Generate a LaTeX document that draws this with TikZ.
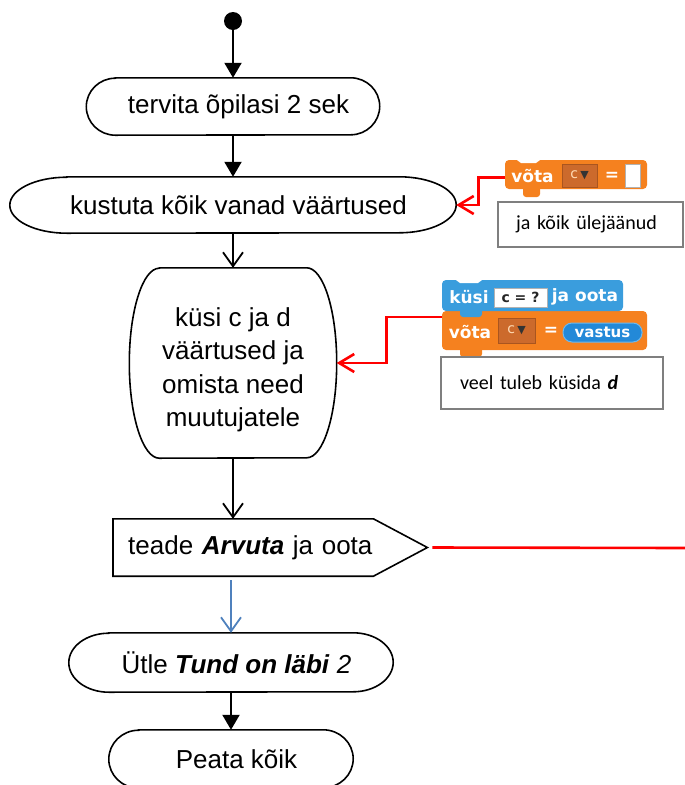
\documentclass[tikz,border=0pt]{standalone}
\usepackage{fontspec}
\setmainfont{Liberation Sans}
\newfontfamily\notefont{Carlito}
\newfontfamily\symfont{DejaVu Sans}
\usepackage{tikz}
\usetikzlibrary{
  positioning,
  calc,
  arrows.meta,
  }

\definecolor{scrorange}{HTML}{F5811F}
\definecolor{scrdrop}{HTML}{CC6A2C}
\definecolor{scrdropline}{HTML}{A9551F}
\definecolor{scrblue}{HTML}{3A9DDD}
\definecolor{scrreporter}{HTML}{2389D8}
\definecolor{scrreportline}{HTML}{6CB9EE}
\definecolor{flowblue}{HTML}{4F81BD}
\definecolor{notegray}{HTML}{7F7F7F}
\definecolor{connred}{HTML}{FF0000}

% flat top and bottom, half ellipses at both ends
\newcommand{\termline}[3]{%
  \draw[outline] ($(#1.north west)+(#2,0)$) -- ($(#1.north east)+(-#2,0)$)
    arc[start angle=90,end angle=-90,x radius=#2pt,y radius=#3pt]
    -- ($(#1.south west)+(#2,0)$)
    arc[start angle=270,end angle=90,x radius=#2pt,y radius=#3pt] -- cycle;}

\begin{document}
\begin{tikzpicture}[x=1pt,y=-1pt,
  flow/.style={inner sep=0pt, font=\fontsize{26}{33.5}\selectfont},
  outline/.style={line width=1.6pt},
  solidarrow/.style={line width=2pt, -{Triangle[length=15pt,width=17pt]}},
  openarrow/.style={line width=1.8pt, -{Straight Barb[length=14pt,width=20pt]}},
  bluearrow/.style={openarrow, draw=flowblue},
  redarrow/.style={line width=2.6pt, draw=connred, -{Straight Barb[length=15pt,width=18pt]}},
  redline/.style={line width=2.6pt, draw=connred},
  block/.style={rounded corners=4pt, inner sep=0pt},
  blocktext/.style={text=white, inner sep=0pt, font=\symfont\fontsize{17}{17}\selectfont\bfseries},
  dropbox/.style={fill=scrdrop, draw=scrdropline, line width=0.8pt, inner sep=0pt,
    text=orange!30!white, font=\symfont\fontsize{14}{14}\selectfont},
  inputbox/.style={fill=white, draw=gray!60, line width=0.8pt, inner sep=0pt,
    text=black!85, font=\symfont\fontsize{14}{14}\selectfont\bfseries},
  reporter/.style={fill=scrreporter, draw=scrreportline, line width=1pt, rounded corners=9pt,
    inner sep=0pt, text=white, font=\symfont\fontsize{15}{15}\selectfont\bfseries},
  notebox/.style={draw=notegray, fill=white, line width=1.3pt, align=left,
    font=\notefont\fontsize{20}{24}\selectfont},
  ]
\useasboundingbox (0,0) rectangle (685,785);

% main flow
\node[circle, fill=black, minimum size=18pt, inner sep=0pt] (start) at (233,21) {};
\node[flow, minimum width=293pt, minimum height=57pt] (greet) at (233,106.5) {\hspace*{11pt}tervita õpilasi 2 sek};
\node[flow, minimum width=446pt, minimum height=56pt] (clear) at (233,205) {\hspace*{11pt}kustuta kõik vanad väärtused};
\node[flow, minimum width=207pt, minimum height=190pt,
  label={[flow, align=center, yshift=-7pt]center:küsi c ja d\\väärtused ja\\omista need\\muutujatele}] (ask) at (233,363) {};
\node[flow, anchor=west, minimum height=57pt, text width=245pt, inner xsep=15pt, align=left] (msg) at (113,547.5)
  {teade \textbf{\textit{Arvuta}} ja oota};
\node[flow, minimum width=324pt, minimum height=59pt] (say) at (231,662.5)
  {\hspace*{11pt}Ütle \textbf{\textit{Tund on läbi}} \textit{2}};
\node[flow, minimum width=244pt, minimum height=58pt] (stop) at (231,759) {\hspace*{11pt}Peata kõik};

\termline{greet}{29}{28.5}
\termline{clear}{57}{28}
\termline{ask}{30}{95}
\termline{say}{40}{29.5}
\termline{stop}{30}{29}
\coordinate (tip) at ($(msg.east)+(39,0)$);
\draw[outline] (msg.north west) -- ([xshift=-15pt]msg.north east) -- (tip)
  -- ([xshift=-15pt]msg.south east) -- (msg.south west) -- cycle;

\foreach \from/\to in {start/greet,greet/clear,say/stop}
    \draw[solidarrow] (\from.south) -- (\to.north);
\draw[openarrow] (clear.south) -- (ask.north);
\draw[openarrow] (ask.south) -- (ask.south |- msg.north);
\draw[bluearrow] ([yshift=-4pt]msg.south -| say.north) -- (say.north);

% first block: vota c = []
\node[block, fill=scrorange, minimum width=142pt, minimum height=29pt] (setA) at (576,174.5) {};
\fill[scrorange, rounded corners=3pt] (523,182) rectangle (540,197);
\fill[white] (517,160) -- (521,163) -- (536,163) -- (540,160) -- cycle;
\node[blocktext] (setAword) at (532.5,176) {võta};
\node[dropbox, minimum width=35pt, minimum height=23pt] (setAvar) at (579.5,175.5)
  {c\,{\color{black!80}\fontsize{11}{11}\selectfont▼}};
\node[blocktext] (setAeq) at (612,176) {=};
\node[inputbox, minimum width=15pt, minimum height=23pt] (setAval) at (632.5,175.5) {};
\node[notebox, minimum height=45pt, text width=149pt, inner xsep=18pt] (noteA) at (590.5,224.5) {ja kõik ülejäänud};

% second block: kusi ... ja oota, vota c = vastus
\node[block, fill=scrorange, minimum width=205pt, minimum height=39pt] (setB) at (544.5,330.5) {};
\fill[scrorange, rounded corners=3pt] (460,340) rectangle (482,357);
\node[block, fill=scrblue, minimum width=181pt, minimum height=31pt] (askB) at (532.5,295.5) {};
\fill[scrblue, rounded corners=3pt] (460,300) rectangle (482,317);
\fill[white] (456,280) -- (460,283) -- (478,283) -- (482,280) -- cycle;
\node[blocktext] (askBword) at (469,297) {küsi};
\node[inputbox, minimum width=53pt, minimum height=19pt] (askBq) at (520.5,297.5) {c = ?};
\node[blocktext] (askBwait) at (585,297) {ja oota};
\node[blocktext] (setBword) at (470,332) {võta};
\node[dropbox, minimum width=37pt, minimum height=25pt] (setBvar) at (516.5,330.5)
  {c\,{\color{black!80}\fontsize{11}{11}\selectfont▼}};
\node[blocktext] (setBeq) at (551,331) {=};
\node[reporter, minimum width=79pt, minimum height=19pt] (setBans) at (602.5,332.5) {vastus};
\node[notebox, minimum height=52pt, text width=184pt, inner xsep=19pt] (noteB) at (552,383)
  {veel tuleb küsida \textbf{\textit{d}}};

% red connectors
\coordinate (redend) at (685,548);
\draw[redarrow] ([yshift=-3pt]setA.west) -| ([xshift=22pt]clear.east) -- (clear.east);
\draw[redarrow] ([yshift=-6pt]setB.north west) -| ([xshift=50pt]ask.east) -- (ask.east);
\draw[redline] ([xshift=5pt]tip) -- (redend);
\end{tikzpicture}
\end{document}
